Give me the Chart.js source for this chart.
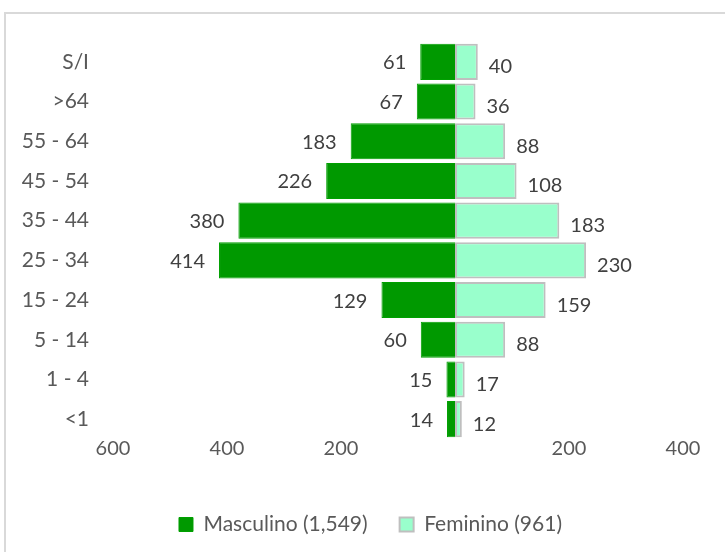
<!DOCTYPE html>
<html>
<head>
<meta charset="utf-8">
<script src="https://cdn.jsdelivr.net/npm/chart.js@4/dist/chart.umd.min.js"></script>
<style>
  html, body { margin: 0; padding: 0; background: #fff; }
  #wrap { position: relative; width: 725px; height: 552px; }
  #frame { position: absolute; left: 4px; top: 12px; right: -10px; bottom: -10px;
           border-left: 2px solid #d9d9d9; border-top: 2px solid #d9d9d9; }
  canvas { position: absolute; left: 0; top: 0; }
</style>
</head>
<body>
<div id="wrap">
  <div id="frame"></div>
  <canvas id="pyramid" width="725" height="552"></canvas>
</div>
<script>
// age groups, top to bottom
const ageGroups = ["S/I", ">64", "55 - 64", "45 - 54", "35 - 44", "25 - 34", "15 - 24", "5 - 14", "1 - 4", "<1"];
const male = [61, 67, 183, 226, 380, 414, 129, 60, 15, 14];
const female = [40, 36, 88, 108, 183, 230, 159, 88, 17, 12];
const maleLabel = "Masculino (1,549)";
const femaleLabel = "Feminino (961)";

const FONT = "Lato, 'Open Sans', sans-serif";

// value labels next to the bar ends
const barLabels = {
  id: "barLabels",
  afterDatasetsDraw(chart) {
    const ctx = chart.ctx;
    ctx.save();
    ctx.font = "20px " + FONT;
    ctx.fillStyle = "#404040";
    ctx.textBaseline = "middle";
    chart.getDatasetMeta(0).data.forEach((bar, i) => {
      ctx.textAlign = "right";
      ctx.fillText(male[i], bar.x - 14, bar.y + 1);
    });
    chart.getDatasetMeta(1).data.forEach((bar, i) => {
      ctx.textAlign = "left";
      ctx.fillText(female[i], bar.x + 11, bar.y + 5);
    });
    ctx.restore();
  }
};

// nudge the legend a bit (Excel doesn't center it on the canvas)
const legendShift = {
  id: "legendShift",
  afterLayout(chart) {
    const lg = chart.legend;
    lg.left += 29; lg.right += 29;
    lg.top -= 7; lg.bottom -= 7;
  }
};

new Chart(document.getElementById("pyramid"), {
  type: "bar",
  data: {
    labels: ageGroups,
    datasets: [
      {
        label: maleLabel,
        data: male.map(v => -v),
        backgroundColor: "#009900",
        borderColor: "#00a000",
        borderWidth: 1,
        barPercentage: 0.91,
        categoryPercentage: 1
      },
      {
        label: femaleLabel,
        data: female,
        backgroundColor: "#99ffcc",
        borderColor: "#bfbfbf",
        borderWidth: 2,
        borderSkipped: false,
        barPercentage: 0.91,
        categoryPercentage: 1
      }
    ]
  },
  options: {
    indexAxis: "y",
    responsive: false,
    animation: false,
    layout: { padding: { top: 42, right: 42, left: 0, bottom: 0 } },
    scales: {
      x: {
        stacked: true,
        min: -600,
        max: 400,
        grid: { display: false, drawTicks: false },
        border: { display: false },
        ticks: {
          stepSize: 200,
          color: "#595959",
          font: { family: FONT, size: 20 },
          padding: -2,
          maxRotation: 0,
          callback: v => v === 0 ? "" : Math.abs(v)
        },
        afterFit(axis) { axis.height = 50; }
      },
      y: {
        stacked: true,
        grid: { display: false, drawTicks: false },
        border: { display: false },
        ticks: {
          color: "#595959",
          font: { family: FONT, size: 21 },
          padding: 24
        },
        afterFit(axis) { axis.width = 113; }
      }
    },
    plugins: {
      legend: {
        position: "bottom",
        labels: {
          color: "#595959",
          font: { family: FONT, size: 21 },
          boxWidth: 14,
          boxHeight: 14,
          padding: 32
        }
      },
      tooltip: { enabled: false }
    }
  },
  plugins: [barLabels, legendShift]
});
</script>
</body>
</html>
